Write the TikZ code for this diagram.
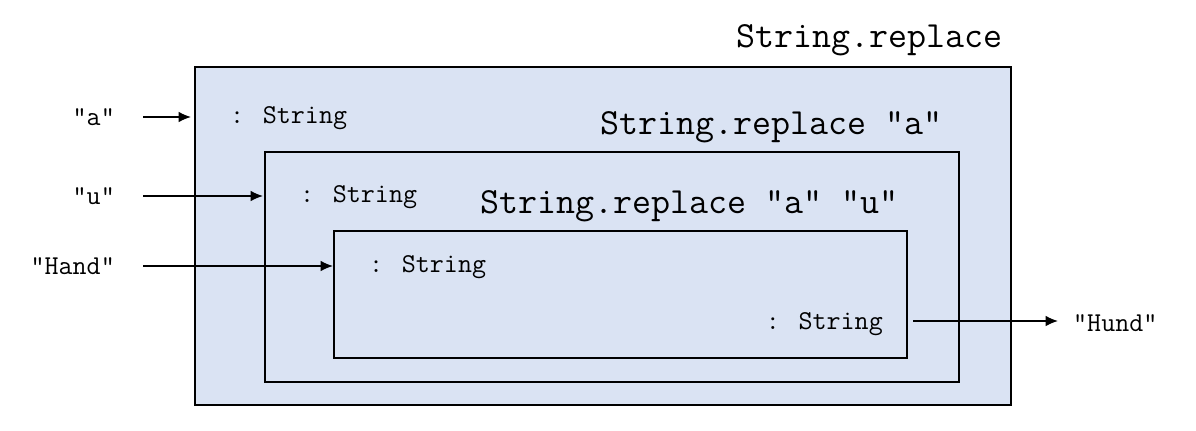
\documentclass[tikz,border=0pt]{standalone}
\usepackage{fontspec}
\usetikzlibrary{positioning,arrows.meta}
\definecolor{boxfill}{HTML}{DAE3F3}

\begin{document}
\begin{tikzpicture}[x=0.02cm, y=-0.02cm,
    frame/.style={draw, line width=0.9pt},
    title/.style={font=\ttfamily\fontsize{21}{23}\selectfont, anchor=base east},
    port/.style={font=\ttfamily\fontsize{15.5}{17}\selectfont, anchor=base west},
    val/.style={font=\ttfamily\fontsize{15.5}{17}\selectfont},
    flow/.style={-{Latex[length=7pt,width=6pt]}, line width=0.8pt}
]
\useasboundingbox (0,0) rectangle (1196,430);

% nested boxes
\filldraw[frame, fill=boxfill] (195,67) rectangle (1011,405);
\draw[frame] (265,152) rectangle (959,382);
\draw[frame] (334,231) rectangle (907,358);

% titles
\node[title] (t1) at (1009,47) {String.replace};
\node[title] (t2) at (949,134) {String.replace "a"};
\node[title] (t3) at (905,213) {String.replace "a" "u"};

% ports
\node[port] (pa) at (224,123) {: String};
\node[port] (pu) at (294,202) {: String};
\node[port] (ph) at (363,272) {: String};
\node[port, anchor=base east] (pout) at (889,329) {: String};

% inputs and output
\node[val, anchor=east] (va) at (121,117) {"a"};
\node[val, anchor=east] (vu) at (121,196) {"u"};
\node[val, anchor=east] (vh) at (121,266) {"Hand"};
\node[val, anchor=west] (vo) at (1067,323) {"Hund"};

\coordinate (sa) at (143,117);
\coordinate (su) at (143,196);
\coordinate (sh) at (143,266);
\coordinate (ia) at (191,117);
\coordinate (iu) at (263,196);
\coordinate (ih) at (333,266);
\coordinate (oa) at (913,321);
\coordinate (ob) at (1058,321);

\draw[flow] (sa) -- (ia);
\draw[flow] (su) -- (iu);
\draw[flow] (sh) -- (ih);
\draw[flow] (oa) -- (ob);

\end{tikzpicture}
\end{document}
